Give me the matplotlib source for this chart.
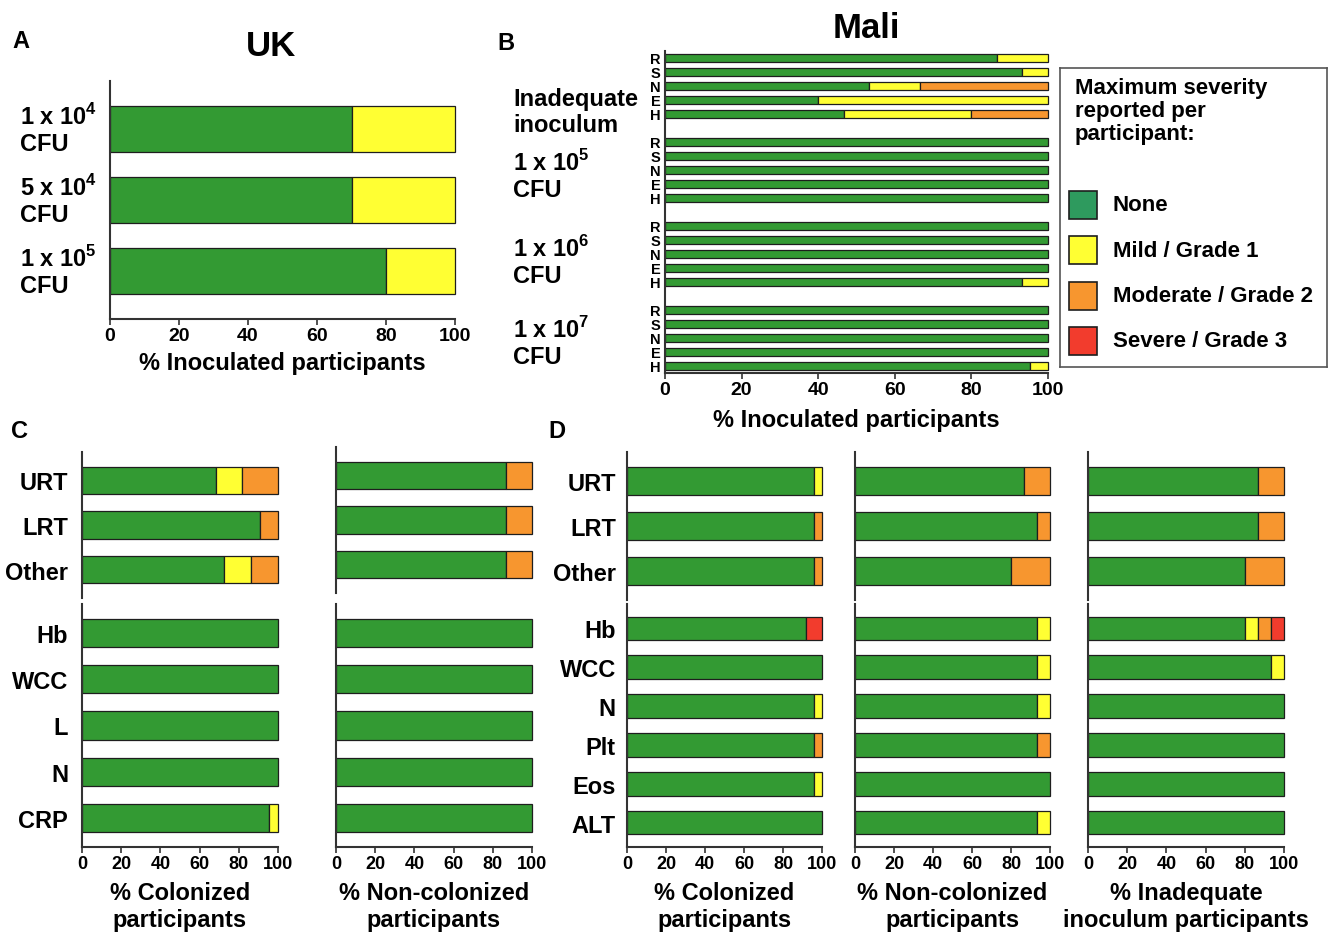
import numpy as np
import matplotlib

matplotlib.use("Agg")
import matplotlib.pyplot as plt
from matplotlib.patches import Rectangle
from matplotlib.transforms import blended_transform_factory

plt.rcParams["font.family"] = ["Liberation Sans", "DejaVu Sans"]
plt.rcParams["font.weight"] = "bold"
plt.rcParams["axes.labelweight"] = "bold"
plt.rcParams["mathtext.fontset"] = "custom"
plt.rcParams["mathtext.bf"] = "Liberation Sans:bold"
plt.rcParams["mathtext.rm"] = "Liberation Sans:bold"

# ---- data: each row is [none, mild, moderate, severe] in % ----
severity_labels = ["None", "Mild / Grade 1", "Moderate / Grade 2", "Severe / Grade 3"]
bar_colors = ["#339a33", "#ffff33", "#f7962f", "#f23c2d"]
legend_colors = ["#2e9a5e", "#ffff33", "#f7962f", "#f23c2d"]

uk_doses = ["1 x 10$^\\mathbf{4}$\nCFU", "5 x 10$^\\mathbf{4}$\nCFU", "1 x 10$^\\mathbf{5}$\nCFU"]
uk_rows = [[70, 30, 0, 0], [70, 30, 0, 0], [80, 20, 0, 0]]

mali_groups = ["Inadequate\ninoculum", "1 x 10$^\\mathbf{5}$\nCFU",
               "1 x 10$^\\mathbf{6}$\nCFU", "1 x 10$^\\mathbf{7}$\nCFU"]
mali_codes = ["R", "S", "N", "E", "H"]
mali_inadequate = [[86.7, 13.3, 0, 0], [93.3, 6.7, 0, 0], [53.3, 13.3, 33.4, 0],
                   [40, 60, 0, 0], [46.7, 33.3, 20, 0]]
mali_1e5 = [[100, 0, 0, 0], [100, 0, 0, 0], [100, 0, 0, 0], [100, 0, 0, 0], [100, 0, 0, 0]]
mali_1e6 = [[100, 0, 0, 0], [100, 0, 0, 0], [100, 0, 0, 0], [100, 0, 0, 0], [93.3, 6.7, 0, 0]]
mali_1e7 = [[100, 0, 0, 0], [100, 0, 0, 0], [100, 0, 0, 0], [100, 0, 0, 0], [95.2, 4.8, 0, 0]]

symptom_labels = ["URT", "LRT", "Other"]
uk_lab_labels = ["Hb", "WCC", "L", "N", "CRP"]
mali_lab_labels = ["Hb", "WCC", "N", "Plt", "Eos", "ALT"]

uk_col_sym = [[68.2, 13.6, 18.2, 0], [90.9, 0, 9.1, 0], [72.7, 13.6, 13.7, 0]]
uk_col_lab = [[100, 0, 0, 0], [100, 0, 0, 0], [100, 0, 0, 0], [100, 0, 0, 0], [95.5, 4.5, 0, 0]]
uk_non_sym = [[86.7, 0, 13.3, 0], [86.7, 0, 13.3, 0], [86.7, 0, 13.3, 0]]
uk_non_lab = [[100, 0, 0, 0], [100, 0, 0, 0], [100, 0, 0, 0], [100, 0, 0, 0], [100, 0, 0, 0]]

mali_col_sym = [[96, 4, 0, 0], [96, 0, 4, 0], [96, 0, 4, 0]]
mali_col_lab = [[92, 0, 0, 8], [100, 0, 0, 0], [96, 4, 0, 0],
                [96, 0, 4, 0], [96, 4, 0, 0], [100, 0, 0, 0]]
mali_non_sym = [[86.7, 0, 13.3, 0], [93.3, 0, 6.7, 0], [80, 0, 20, 0]]
mali_non_lab = [[93.3, 6.7, 0, 0], [93.3, 6.7, 0, 0], [93.3, 6.7, 0, 0],
                [93.3, 0, 6.7, 0], [100, 0, 0, 0], [93.3, 6.7, 0, 0]]
mali_inad_sym = [[86.7, 0, 13.3, 0], [86.7, 0, 13.3, 0], [80, 0, 20, 0]]
mali_inad_lab = [[80, 6.7, 6.7, 6.6], [93.3, 6.7, 0, 0], [100, 0, 0, 0],
                 [100, 0, 0, 0], [100, 0, 0, 0], [100, 0, 0, 0]]

EDGE = "#1e1e1e"
SPINE = "#333333"
W, H = 1330, 937

fig = plt.figure(figsize=(W / 100, H / 100), dpi=100)


def px_axes(x0, y0, x1, y1):
    return fig.add_axes([x0 / W, 1 - y1 / H, (x1 - x0) / W, (y1 - y0) / H])


def draw_stacked(ax, positions, rows, height):
    rows = np.asarray(rows, dtype=float)
    pos = np.asarray(positions, dtype=float)
    lefts = np.cumsum(rows, axis=1) - rows
    for j, color in enumerate(bar_colors):
        keep = rows[:, j] > 0
        ax.barh(pos[keep], rows[keep, j], left=lefts[keep, j], height=height,
                color=color, edgecolor=EDGE, linewidth=0.9, clip_on=False, zorder=2)


def style(ax, n, margin, show_x, tick_size=13):
    ax.set_xlim(0, 100)
    ax.set_ylim(n - 1 + margin, -margin)
    for s in ("top", "right"):
        ax.spines[s].set_visible(False)
    ax.spines["left"].set_linewidth(1.5)
    ax.spines["left"].set_color(SPINE)
    ax.tick_params(axis="y", length=0)
    ax.set_yticks([])
    if show_x:
        ax.spines["bottom"].set_linewidth(1.5)
        ax.spines["bottom"].set_color(SPINE)
        ax.set_xticks(range(0, 101, 20))
        ax.tick_params(axis="x", length=4, width=1.2, pad=2, labelsize=tick_size,
                       color=SPINE)
    else:
        ax.spines["bottom"].set_visible(False)
        ax.set_xticks([])


# ---- panel A: UK ----
ax_a = px_axes(110, 82, 455, 320)
pos_a = np.arange(len(uk_doses))
draw_stacked(ax_a, pos_a, uk_rows, 0.65)
style(ax_a, len(uk_doses), 0.67, True, tick_size=14)
ax_a.set_xlabel("% Inoculated participants", fontsize=17, labelpad=5)
tr_a = blended_transform_factory(fig.transFigure, ax_a.transData)
for p, lab in zip(pos_a, uk_doses):
    ax_a.text(20 / W, p, lab, transform=tr_a, ha="left", va="center", fontsize=17,
              linespacing=1.15)

# ---- panel B: Mali ----
ax_b = px_axes(665, 52, 1048, 374)
mali_all = [mali_inadequate, mali_1e5, mali_1e6, mali_1e7]
pos_b, rows_b, codes_b = [], [], []
for g, rows in enumerate(mali_all):
    for k, row in enumerate(rows):
        pos_b.append(g * 6 + k)
        rows_b.append(row)
        codes_b.append(mali_codes[k])
draw_stacked(ax_b, pos_b, rows_b, 0.6)
style(ax_b, 23, 0.5, True, tick_size=14)
ax_b.set_yticks(pos_b, labels=codes_b, fontsize=10.5)
ax_b.tick_params(axis="y", length=0, pad=3)
ax_b.set_xlabel("% Inoculated participants", fontsize=17, labelpad=7)
tr_b = blended_transform_factory(fig.transFigure, ax_b.transData)
group_shift = [1.8, 0.35, 0.5, 0.3]
for g, lab in enumerate(mali_groups):
    ax_b.text(513 / W, g * 6 + 2 + group_shift[g], lab, transform=tr_b, ha="left",
              va="center", fontsize=17, linespacing=1.15)

# ---- legend ----
ax_leg = px_axes(1060, 69, 1327, 368)
ax_leg.set_xlim(1060, 1327)
ax_leg.set_ylim(368, 69)
ax_leg.set_xticks([])
ax_leg.set_yticks([])
for s in ax_leg.spines.values():
    s.set_color("#555555")
    s.set_linewidth(1.2)
ax_leg.text(1075, 78, "Maximum severity\nreported per\nparticipant:", ha="left",
            va="top", fontsize=16, linespacing=1.12)
for i, (lab, col) in enumerate(zip(severity_labels, legend_colors)):
    y0 = 192 + i * 45.3
    ax_leg.add_patch(Rectangle((1069, y0), 28, 28, facecolor=col, edgecolor=EDGE,
                               linewidth=1.2))
    ax_leg.text(1113, y0 + 14, lab, ha="left", va="center", fontsize=16)

# ---- panels C and D ----
def column(x0, x1, top_y, sym_rows, lab_rows, sym_labels, lab_labels, xlabel, pad):
    n_s, n_l = len(sym_rows), len(lab_rows)
    ax_t = px_axes(x0, top_y[0], x1, top_y[1])
    draw_stacked(ax_t, np.arange(n_s), sym_rows, 0.62)
    style(ax_t, n_s, 0.64, False)
    ax_l = px_axes(x0, 605, x1, 848)
    draw_stacked(ax_l, np.arange(n_l), lab_rows, 0.61)
    style(ax_l, n_l, 0.63, True)
    if sym_labels:
        ax_t.set_yticks(np.arange(n_s), labels=sym_labels, fontsize=17)
        ax_t.tick_params(axis="y", length=0, pad=pad)
        ax_l.set_yticks(np.arange(n_l), labels=lab_labels, fontsize=17)
        ax_l.tick_params(axis="y", length=0, pad=pad)
    ax_l.set_xlabel(xlabel, fontsize=17, labelpad=6, linespacing=1.25)


column(82, 278, (453, 599), uk_col_sym, uk_col_lab, symptom_labels, uk_lab_labels,
       "% Colonized\nparticipants", 10)
column(336, 532, (448, 594), uk_non_sym, uk_non_lab, None, None,
       "% Non-colonized\nparticipants", 10)
column(627, 822, (453, 601), mali_col_sym, mali_col_lab, symptom_labels,
       mali_lab_labels, "% Colonized\nparticipants", 8)
column(855, 1050, (453, 601), mali_non_sym, mali_non_lab, None, None,
       "% Non-colonized\nparticipants", 8)
column(1088, 1284, (453, 601), mali_inad_sym, mali_inad_lab, None, None,
       "% Inadequate\ninoculum participants", 8)

# ---- titles and panel letters ----
fig.text(271 / W, 1 - 46 / H, "UK", ha="center", va="center", fontsize=25)
fig.text(866 / W, 1 - 28 / H, "Mali", ha="center", va="center", fontsize=25)
for letter, x, y in [("A", 12, 41), ("B", 497, 43), ("C", 11, 432), ("D", 548, 432)]:
    fig.text(x / W, 1 - y / H, letter, ha="left", va="center", fontsize=17)

fig.savefig("out.png", dpi=100)
